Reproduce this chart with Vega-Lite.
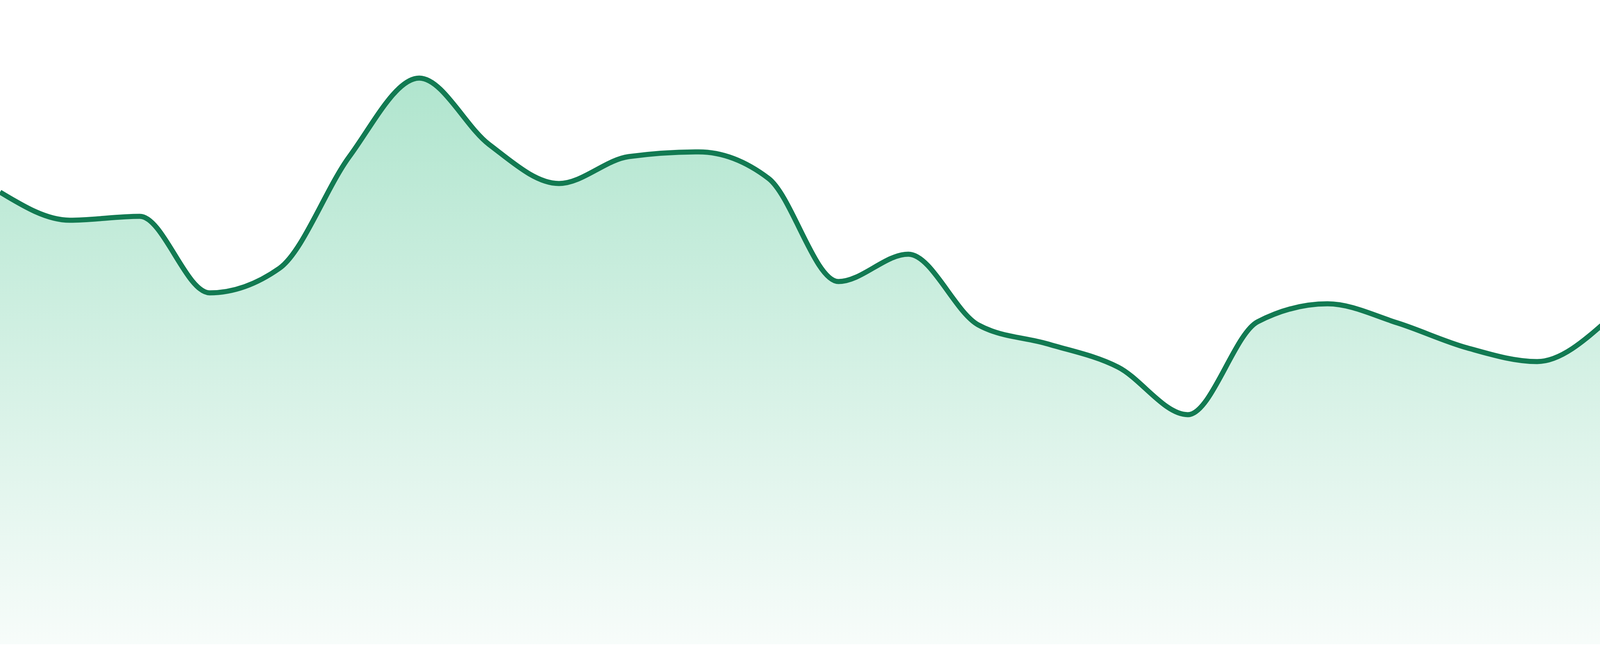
{
  "$schema": "https://vega.github.io/schema/vega-lite/v6.json",
  "width": 4114,
  "height": 1650,
  "autosize": {"type": "none"},
  "padding": {"left": 0, "right": 0, "top": 0, "bottom": 30},
  "background": "white",
  "config": {"view": {"stroke": null}},
  "data": {
    "values": [
      {"step": 0, "value": 1158},
      {"step": 1, "value": 1086},
      {"step": 2, "value": 1096},
      {"step": 3, "value": 900},
      {"step": 4, "value": 963},
      {"step": 5, "value": 1249},
      {"step": 6, "value": 1450},
      {"step": 7, "value": 1280},
      {"step": 8, "value": 1180},
      {"step": 9, "value": 1249},
      {"step": 10, "value": 1261},
      {"step": 11, "value": 1193},
      {"step": 12, "value": 929},
      {"step": 13, "value": 999},
      {"step": 14, "value": 818},
      {"step": 15, "value": 769},
      {"step": 16, "value": 710},
      {"step": 17, "value": 588},
      {"step": 18, "value": 826},
      {"step": 19, "value": 872},
      {"step": 20, "value": 823},
      {"step": 21, "value": 759},
      {"step": 22, "value": 724},
      {"step": 23, "value": 829}
    ]
  },
  "encoding": {
    "x": {
      "field": "step",
      "type": "quantitative",
      "scale": {"domain": [0, 23], "nice": false, "zero": false},
      "axis": null
    },
    "y": {
      "field": "value",
      "type": "quantitative",
      "scale": {"domain": [0, 1650], "nice": false},
      "axis": null
    }
  },
  "layer": [
    {
      "mark": {
        "type": "area",
        "interpolate": "monotone",
        "color": {
          "gradient": "linear",
          "x1": 0, "y1": 0, "x2": 0, "y2": 1,
          "stops": [
            {"offset": 0, "color": "#b0e5ce"},
            {"offset": 1, "color": "#f7fcfa"}
          ]
        }
      }
    },
    {
      "mark": {
        "type": "line",
        "interpolate": "monotone",
        "color": "#127a52",
        "strokeWidth": 13
      }
    }
  ]
}
